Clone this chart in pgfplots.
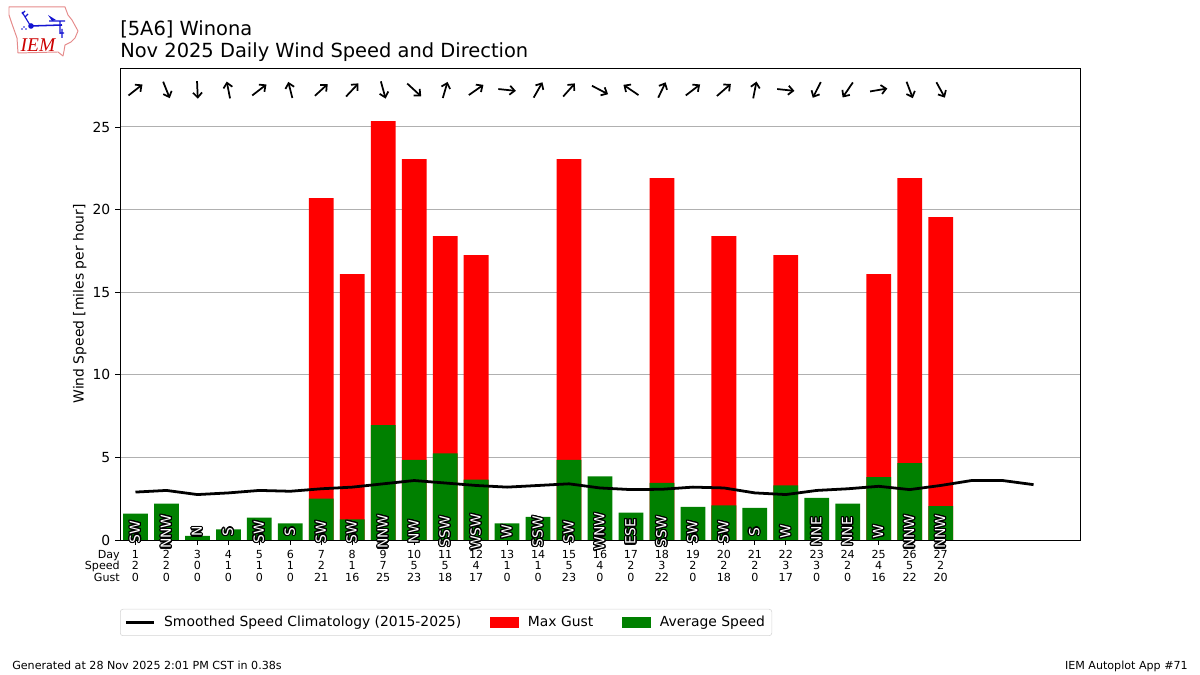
\documentclass[border=0pt]{standalone}
\usepackage{fontspec}
\setmainfont{DejaVu Sans}
\newfontfamily\logofont{Liberation Serif}
\usepackage{pgfplots}
\usepackage{pgfplotstable}
\usepackage{contour}
\pgfplotsset{compat=1.18}
\usetikzlibrary{arrows.meta}
\contournumber{16}
\contourlength{0.85pt}
\definecolor{mplgreen}{HTML}{008000}
\definecolor{gridgray}{HTML}{B0B0B0}
\definecolor{legendgray}{HTML}{D5D5D5}
\definecolor{logored}{HTML}{E58A8A}
\definecolor{logoblue}{HTML}{1414D2}

% day, average speed, max gust
\pgfplotstableread{
day avg gust
1 1.60 0
2 2.20 0
3 0.25 0
4 0.65 0
5 1.35 0
6 1.00 0
7 2.50 20.70
8 1.25 16.10
9 6.95 25.35
10 4.85 23.05
11 5.25 18.40
12 3.65 17.25
13 1.00 0
14 1.40 0
15 4.85 23.05
16 3.85 0
17 1.65 0
18 3.45 21.90
19 2.00 0
20 2.10 18.40
21 1.95 0
22 3.30 17.25
23 2.55 0
24 2.20 0
25 3.80 16.10
26 4.65 21.90
27 2.05 19.55
}\speedtable

% smoothed climatology
\pgfplotstableread{
day clim
1 2.90
2 3.00
3 2.75
4 2.85
5 3.00
6 2.95
7 3.10
8 3.20
9 3.40
10 3.60
11 3.45
12 3.30
13 3.20
14 3.30
15 3.40
16 3.15
17 3.05
18 3.07
19 3.20
20 3.15
21 2.85
22 2.75
23 3.00
24 3.10
25 3.25
26 3.05
27 3.30
28 3.60
29 3.60
30 3.35
}\climtable

% arrow run and rise, in pixels
\pgfplotstableread{
day dx dy
1 12.7 10
2 6 -15
3 0.7 -16
4 -3 15.3
5 13 10
6 -3.7 14.7
7 11.7 10.7
8 11.3 12
9 4.3 -15.7
10 12.7 -11.7
11 4.3 14.7
12 13.3 9.3
13 16 -1.7
14 8 14
15 10.7 12
16 14.7 -7.7
17 -13.7 9.3
18 6.7 14
19 13 10
20 12.7 11
21 3 15.3
22 15.7 -1.7
23 -7.3 -14.3
24 -9.3 -13.7
25 15.7 2.7
26 5.7 -15
27 7.7 -14
}\arrowtable

\pgfplotstableread{
day y dir
1 0.5 SW
2 0.5 NNW
3 0.5 N
4 0.5 S
5 0.5 SW
6 0.5 S
7 0.5 SW
8 0.5 SW
9 0.5 NNW
10 0.5 NW
11 0.5 SSW
12 0.5 WSW
13 0.5 W
14 0.5 SSW
15 0.5 SW
16 0.5 WNW
17 0.5 ESE
18 0.5 SSW
19 0.5 SW
20 0.5 SW
21 0.5 S
22 0.5 W
23 0.5 NNE
24 0.5 NNE
25 0.5 W
26 0.5 NNW
27 0.5 NNW
}\dirtable

\begin{document}
\begin{tikzpicture}
\path[use as bounding box] (0pt,0pt) rectangle (864pt,486pt);
\begin{axis}[
    at={(86.4pt,97.2pt)}, anchor=south west,
    width=691.2pt, height=339.84pt, scale only axis,
    xmin=0.5, xmax=31.5, ymin=0, ymax=28.57,
    clip=false,
    axis line style={line width=0.65pt},
    tick align=outside, tick pos=left,
    major tick length=3.5pt,
    tick style={black, line width=0.65pt},
    ytick={0,5,10,15,20,25},
    ymajorgrids,
    grid style={gridgray, line width=0.7pt},
    /pgf/number format/assume math mode=true,
    ylabel={Wind Speed [miles per hour]},
    ylabel shift=-2.5pt,
    label style={font=\fontsize{10}{12}\selectfont},
    yticklabel style={font=\fontsize{10}{12}\selectfont},
    xtick={1,...,27},
    xticklabels={{1\\2\\0},{2\\2\\0},{3\\0\\0},{4\\1\\0},{5\\1\\0},{6\\1\\0},{7\\2\\21},{8\\1\\16},{9\\7\\25},{10\\5\\23},{11\\5\\18},{12\\4\\17},{13\\1\\0},{14\\1\\0},{15\\5\\23},{16\\4\\0},{17\\2\\0},{18\\3\\22},{19\\2\\0},{20\\2\\18},{21\\2\\0},{22\\3\\17},{23\\3\\0},{24\\2\\0},{25\\4\\16},{26\\5\\22},{27\\2\\20}},
    xticklabel style={align=center, font=\fontsize{8}{8.4}\selectfont, inner sep=3.5pt},
    legend columns=3,
    legend style={at={(0,-0.146)}, anchor=north west, draw=legendgray, rounded corners=2pt,
        font=\fontsize{10}{12}\selectfont, inner xsep=3pt, inner ysep=3pt,
        /tikz/every even column/.append style={column sep=19pt},
        /tikz/every odd column/.append style={column sep=4.6pt}},
    legend cell align=left,
]
\addlegendimage{legend image code/.code={\draw[black, line width=2pt, sharp corners] (0pt,0pt) -- (20pt,0pt);}}
\addlegendentry{Smoothed Speed Climatology (2015-2025)}
\addlegendimage{legend image code/.code={\fill[red, sharp corners] (0pt,-3.6pt) rectangle (20pt,3.6pt);}}
\addlegendentry{Max Gust}
\addlegendimage{legend image code/.code={\fill[mplgreen, sharp corners] (0pt,-3.6pt) rectangle (20pt,3.6pt);}}
\addlegendentry{Average Speed}

\addplot[forget plot, ybar, bar width=0.8, bar shift=0pt, fill=red, draw=none] table[x=day, y=gust] {\speedtable};
\addplot[forget plot, ybar, bar width=0.8, bar shift=0pt, fill=mplgreen, draw=none] table[x=day, y=avg] {\speedtable};
\addplot[forget plot, black, line width=2pt] table[x=day, y=clim] {\climtable};
\addplot[forget plot, black, line width=1.25pt, -{Straight Barb[length=3.5pt,width=6.5pt]},
    quiver={u=\thisrow{dx}/28.2, v=\thisrow{dy}/15.05}]
    table[x expr=\thisrow{day}-\thisrow{dx}/56.4, y expr=27.24-\thisrow{dy}/30.1] {\arrowtable};
\addplot[forget plot, draw=none, point meta=explicit symbolic,
    nodes near coords={\contour{black}{\textcolor{white}{\pgfplotspointmeta}}},
    nodes near coords style={rotate=90, anchor=center, inner sep=0pt, font=\fontsize{10}{12}\selectfont}]
    table[x=day, y=y, meta=dir] {\dirtable};
\end{axis}
\begin{scope}[x=0.72pt, y=-0.72pt, yshift=486pt]
    \node[anchor=base west, inner sep=0pt, font=\fontsize{14}{16}\selectfont] at (120,36) {[5A6] Winona};
    \node[anchor=base west, inner sep=0pt, font=\fontsize{14}{16}\selectfont] at (120,58) {Nov 2025 Daily Wind Speed and Direction};
    \node[anchor=base east, inner sep=0pt, font=\fontsize{8}{10}\selectfont] at (120,558.5) {Day};
    \node[anchor=base east, inner sep=0pt, font=\fontsize{8}{10}\selectfont] at (120,570) {Speed};
    \node[anchor=base east, inner sep=0pt, font=\fontsize{8}{10}\selectfont] at (120,581.5) {Gust};
    \node[anchor=base west, inner sep=0pt, font=\fontsize{8}{10}\selectfont] at (12,670) {Generated at 28 Nov 2025 2:01 PM CST in 0.38s};
    \node[anchor=base east, inner sep=0pt, font=\fontsize{8}{10}\selectfont] at (1188,670) {IEM Autoplot App \#71};
    % logo
    \draw[logored, line width=0.7pt, line join=round] (9,7) -- (65,7) -- (68,15) -- (72,20) -- (78,31) -- (75,38) -- (71,42) -- (65,45) -- (64,51) -- (63,56) -- (58,52) -- (18,53) -- (17,38) -- (12,24) -- (9,15) -- cycle;
    \draw[logoblue, line width=1.1pt] (31,26) -- (62,25);
    \draw[logoblue, line width=0.8pt] (49,21) -- (65,21) (60,21) -- (60,34) (22,12) -- (30,25) (22,14) -- (25,11) (25,17) -- (28,14) (60,33) -- (64,33) (62,29) -- (62,38);
    \fill[logoblue] (48,15) -- (56,20) -- (52,21) -- cycle (31,26) circle (2.8);
    \fill[logoblue] (24,27) circle (0.8) (22,29) circle (0.8) (26,29) circle (0.8);
    \node[inner sep=0pt, text=red!80!black, font=\logofont\itshape\fontsize{14}{16}\selectfont] at (38,45) {IEM};
\end{scope}
\end{tikzpicture}
\end{document}
